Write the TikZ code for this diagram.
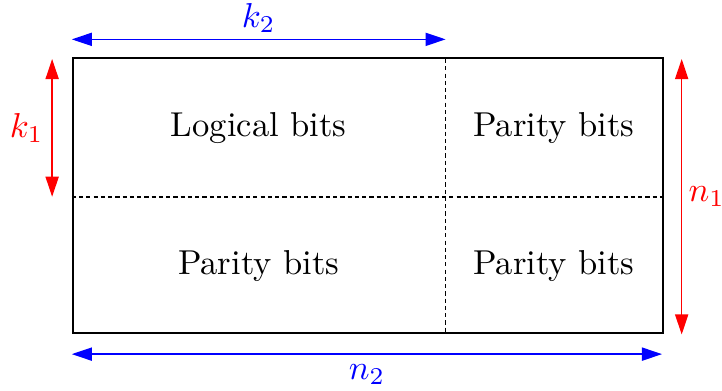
\documentclass[tikz,border=0pt]{standalone}
\usepackage{amsmath}
\usepackage{tikz}
\usetikzlibrary{positioning, arrows.meta}

\begin{document}
\begin{tikzpicture}[
  blk/.style={draw, semithick},
  split/.style={line width=0.5pt, dash pattern=on 1.2pt off 0.9pt},
  dim/.style={{Triangle[length=5.8pt,width=3.8pt]}-{Triangle[length=5.8pt,width=3.8pt]}, line width=0.4pt},
  txt/.style={font=\normalsize}
]
  \useasboundingbox (-0.73,-0.57) rectangle (6.61,3.40);

  % block and dividers
  \node[blk, minimum width=6cm, minimum height=2.8cm, anchor=south west, inner sep=0pt] (code) at (0,0) {};
  \coordinate (vtop) at (3.8,2.8);
  \coordinate (vbot) at (3.8,0);
  \coordinate (hleft) at (0,1.4);
  \coordinate (hright) at (6,1.4);
  \draw[split] (vtop) -- (vbot);
  \draw[split] (hleft) -- (hright);

  \node[txt] (logic) at (1.9,2.1) {Logical bits};
  \node[txt] (parTR) at (4.9,2.1) {Parity bits};
  \node[txt] (parBL) at (1.9,0.7) {Parity bits};
  \node[txt] (parBR) at (4.9,0.7) {Parity bits};

  % dimensions
  \coordinate (kTwoA) at (0,3.0);
  \coordinate (kTwoB) at (3.8,3.0);
  \coordinate (kOneA) at (-0.2,2.8);
  \coordinate (kOneB) at (-0.2,1.4);
  \coordinate (nOneA) at (6.2,2.8);
  \coordinate (nOneB) at (6.2,0);
  \coordinate (nTwoA) at (0,-0.2);
  \coordinate (nTwoB) at (6,-0.2);

  \draw[dim, blue] (kTwoA) -- node[above=-1.5pt] (kTwo) {$k_2$} (kTwoB);
  \draw[dim, red] (kOneA) -- node[left=-1pt] (kOne) {$k_1$} (kOneB);
  \draw[dim, red] (nOneA) -- node[right=-1.5pt] (nOne) {$n_1$} (nOneB);
  \draw[dim, blue] (nTwoA) -- node[below=-0.5pt] (nTwo) {$n_2$} (nTwoB);
\end{tikzpicture}
\end{document}
